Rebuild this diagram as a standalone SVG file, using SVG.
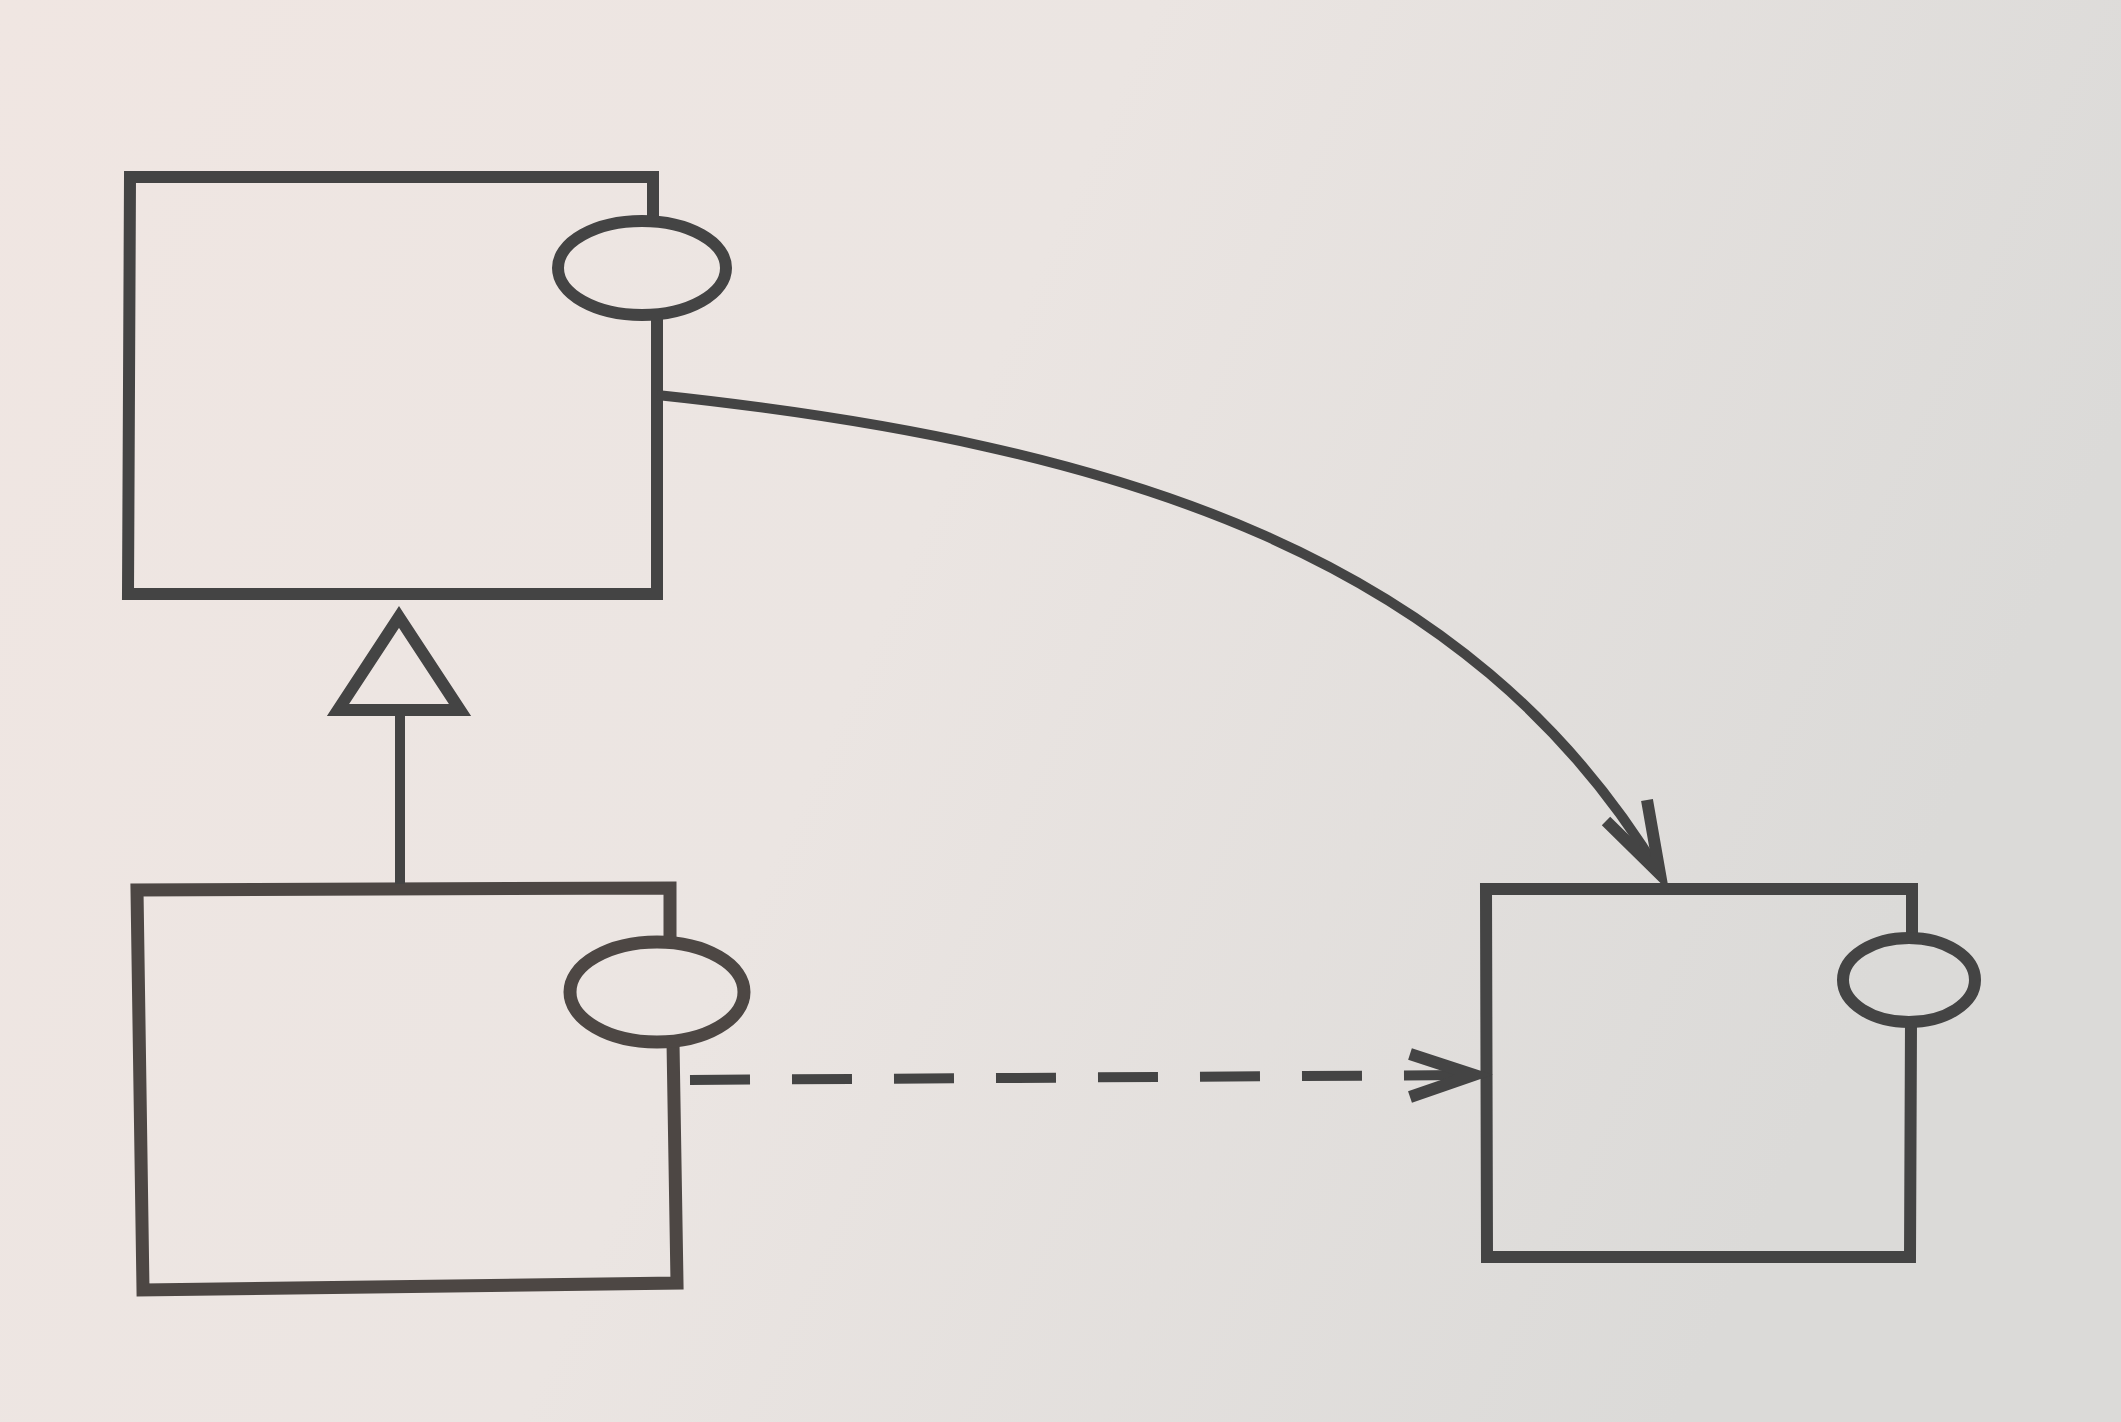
<svg xmlns="http://www.w3.org/2000/svg" width="2121" height="1422" viewBox="0 0 2121 1422">
  <defs>
    <linearGradient id="paper" x1="0" y1="0" x2="1" y2="0.3">
      <stop offset="0" stop-color="#f0e6e2"/>
      <stop offset="0.5" stop-color="#ebe5e2"/>
      <stop offset="1" stop-color="#dbdad8"/>
    </linearGradient>
    <style>
      .box { fill: none; stroke: #444444; stroke-width: 12; stroke-linejoin: miter; }
      .box2 { fill: none; stroke: #4d4744; stroke-width: 13; stroke-linejoin: miter; }
      .conn { fill: none; stroke: #444444; stroke-width: 10; }
      .head { fill: none; stroke: #444444; stroke-width: 12; stroke-linejoin: miter; stroke-linecap: butt; }
    </style>
  </defs>
  <rect x="0" y="0" width="2121" height="1422" fill="url(#paper)"/>

  <g id="component-top-left">
    <path class="box" d="M653 221 L653 177 L130 177 L128 594 L657 594 L657 315"/>
    <ellipse class="box" cx="642" cy="268" rx="84" ry="47"/>
  </g>

  <g id="component-bottom-left">
    <path class="box2" d="M670 942 L670 888 L137 890 L143 1290 L677 1283 L673 1042"/>
    <ellipse class="box2" cx="657" cy="992" rx="87" ry="50"/>
  </g>

  <g id="component-right">
    <path class="box" d="M1912 939 L1912 889 L1486 889 L1487 1257 L1910 1257 L1911 1021"/>
    <ellipse class="box" cx="1909" cy="980" rx="66" ry="42"/>
  </g>

  <g id="connectors">
    <!-- generalization -->
    <line class="conn" x1="400" y1="710" x2="400" y2="884"/>
    <path class="head" d="M399 617 L460 710 L338 710 Z"/>
    <!-- curved dependency -->
    <path class="conn" d="M657 395 C1130 445 1470 560 1660 874"/>
    <path class="head" d="M1606 821 L1660 874 L1647 800"/>
    <!-- dashed dependency -->
    <line class="conn" x1="690" y1="1080" x2="1466" y2="1075" stroke-dasharray="60 42"/>
    <path class="head" d="M1410 1054 L1474 1075 L1410 1097"/>
  </g>
</svg>
